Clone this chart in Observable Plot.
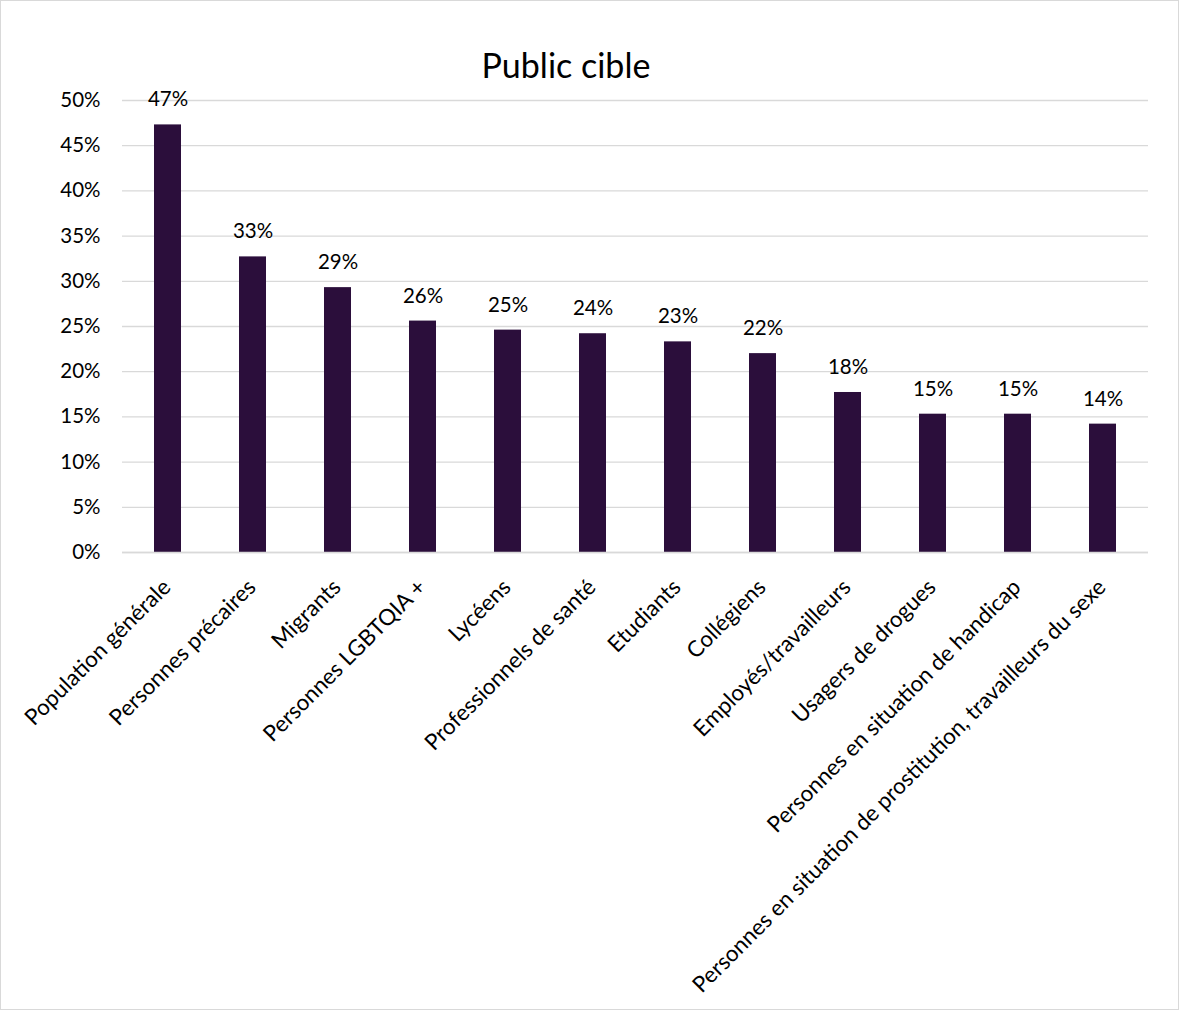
<!DOCTYPE html>
<html lang="fr">
<head>
<meta charset="utf-8">
<script src="https://cdn.jsdelivr.net/npm/d3@7"></script>
<script src="https://cdn.jsdelivr.net/npm/@observablehq/plot@0.6"></script>
<style>
  html, body { margin: 0; padding: 0; background: #fff; }
  #frame {
    position: relative;
    width: 1177px;
    height: 1008px;
    border: 1px solid #d9d9d9;
    font-family: Lato, "Open Sans", sans-serif;
    color: #000;
    overflow: hidden;
  }
  #title {
    position: absolute;
    top: 43px;
    left: 0;
    width: 1130px;
    text-align: center;
    font-size: 34px;
    line-height: 42px;
  }
  #chart { position: absolute; left: 0; top: 0; }
</style>
</head>
<body>
<div id="frame">
  <div id="chart"></div>
  <div id="title">Public cible</div>
</div>
<script>
// Share of actions by target audience
const categories = [
  "Population générale",
  "Personnes précaires",
  "Migrants",
  "Personnes LGBTQIA +",
  "Lycéens",
  "Professionnels de santé",
  "Etudiants",
  "Collégiens",
  "Employés/travailleurs",
  "Usagers de drogues",
  "Personnes en situation de handicap",
  "Personnes en situation de prostitution, travailleurs du sexe"
];
const shares = [0.473, 0.327, 0.293, 0.256, 0.246, 0.242, 0.233, 0.220, 0.177, 0.153, 0.153, 0.142];
const yTicks = [0, 0.05, 0.10, 0.15, 0.20, 0.25, 0.30, 0.35, 0.40, 0.45, 0.50];

const data = categories.map((name, i) => ({name, value: shares[i]}));
const pct = d3.format(".0%");

const chart = Plot.plot({
  width: 1177,
  height: 1008,
  marginLeft: 121,
  marginRight: 30,
  marginTop: 99,
  marginBottom: 457,
  style: {fontFamily: "Lato, 'Open Sans', sans-serif", fontSize: "20px", color: "#000", background: "transparent"},
  x: {domain: categories, paddingInner: 0.68, paddingOuter: 0.34, label: null},
  y: {domain: [0, 0.5], label: null},
  marks: [
    Plot.gridY(yTicks, {stroke: "#d9d9d9", strokeOpacity: 1, strokeWidth: 1.3}),
    Plot.axisY(yTicks, {tickFormat: pct, tickSize: 0, tickPadding: 22, fontSize: 20.5}),
    Plot.barY(data, {x: "name", y: "value", fill: "#2b0e3b"}),
    Plot.ruleY([0], {stroke: "#d9d9d9", strokeWidth: 1.3}),
    Plot.text(data, {x: "name", y: "value", text: d => pct(d.value), dy: -25, fontSize: 20.5, fill: "#000"}),
    Plot.axisX({tickSize: 0, tickRotate: -45, tickPadding: 31, dx: -1, fontSize: 22.4, label: null})
  ]
});
document.getElementById("chart").append(chart);
</script>
</body>
</html>
